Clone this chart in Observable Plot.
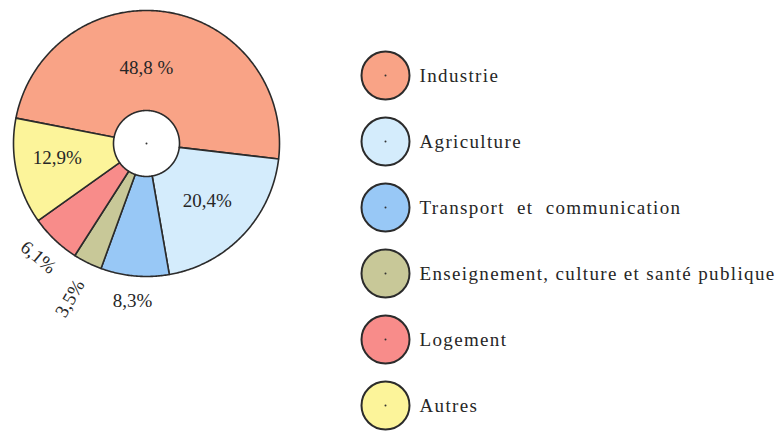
<!DOCTYPE html>
<html><head><meta charset="utf-8">
<script src="https://cdn.jsdelivr.net/npm/d3@7"></script>
<script src="https://cdn.jsdelivr.net/npm/@observablehq/plot@0.6"></script>
<style>
body{margin:0;background:#fff}
#wrap{display:flex;width:784px;height:431px}
#wrap svg{display:block}
</style>
</head><body><div id="wrap"></div>
<script>
// ---- data ----
const categories = ["Industrie", "Agriculture", "Transport et communication",
  "Enseignement, culture et santé publique", "Logement", "Autres"];
const shares = [48.8, 20.4, 8.3, 3.5, 6.1, 12.9];
const shareLabels = ["48,8 %", "20,4%", "8,3%", "3,5%", "6,1%", "12,9%"];
const legendLabels = ["Industrie", "Agriculture", "Transport\u00a0 et\u00a0 communication",
  "Enseignement, culture et santé publique", "Logement", "Autres"];

// ---- styles / layout ----
const colors = ["#f9a386", "#d4ecfc", "#98c8f6", "#c8c898", "#f88c8a", "#fcf49a"];
const serif = "'Liberation Serif', 'DejaVu Serif', serif";
const startDeg = -79;
const innerR = 33 / 133;
const labelPlace = [
  {r: 0.57, da: -9, rot: 0},
  {r: 0.63, da: 0, rot: 0},
  {r: 1.19, da: 0, rot: 0},
  {r: 1.30, da: 0, rot: -60},
  {r: 1.18, da: 0, rot: 40},
  {r: 0.68, da: 3, rot: 0}
];

const start = startDeg * Math.PI / 180;
const arcs = d3.pie().sort(null).value(d => d).startAngle(start).endAngle(start + 2 * Math.PI)(shares);

const pts = [];
arcs.forEach((a, i) => {
  const n = Math.max(4, Math.ceil((a.endAngle - a.startAngle) / 0.01));
  for (let k = 0; k <= n; k++) {
    const t = a.startAngle + (a.endAngle - a.startAngle) * k / n;
    pts.push({i, x: Math.sin(t), y: Math.cos(t)});
  }
  for (let k = n; k >= 0; k--) {
    const t = a.startAngle + (a.endAngle - a.startAngle) * k / n;
    pts.push({i, x: innerR * Math.sin(t), y: innerR * Math.cos(t)});
  }
});

const labels = arcs.map((a, i) => {
  const p = labelPlace[i];
  const t = (a.startAngle + a.endAngle) / 2 + p.da * Math.PI / 180;
  return {text: shareLabels[i], x: p.r * Math.sin(t), y: p.r * Math.cos(t), rot: p.rot};
});

const pie = Plot.plot({
  width: 292, height: 431,
  marginLeft: 13, marginRight: 13, marginTop: 10, marginBottom: 155,
  x: {domain: [-1, 1], axis: null},
  y: {domain: [-1, 1], axis: null},
  color: {type: "identity"},
  style: {fontFamily: serif, background: "transparent", overflow: "visible"},
  marks: [
    Plot.line(pts, {x: "x", y: "y", z: "i", fill: d => colors[d.i], stroke: "#2b2b2b",
      strokeWidth: 1.6, curve: "linear-closed", strokeLinejoin: "round"}),
    Plot.dot([0], {x: () => 0, y: () => 0, r: 1, fill: "#333"}),
    Plot.text(labels, {x: "x", y: "y", text: "text", rotate: "rot", fontSize: 19,
      fontFamily: serif, fill: "#262626"})
  ]
});

const legend = Plot.plot({
  width: 492, height: 431,
  marginLeft: 93, marginRight: 0, marginTop: 0, marginBottom: 0,
  y: {type: "point", domain: categories, range: [75, 405], padding: 0, axis: null},
  color: {type: "identity"},
  style: {fontFamily: serif, background: "transparent", overflow: "visible"},
  marks: [
    Plot.dot(categories, {y: d => d, r: 24, fill: (d, i) => colors[i], stroke: "#2b2b2b",
      strokeWidth: 2, frameAnchor: "left"}),
    Plot.dot(categories, {y: d => d, r: 1, fill: "#333", frameAnchor: "left"}),
    Plot.text(categories, {y: d => d, text: (d, i) => legendLabels[i], frameAnchor: "left",
      dx: 34, textAnchor: "start", fontSize: 19, fontFamily: serif, fill: "#262626"})
  ]
});

legend.querySelectorAll("text").forEach(t => t.style.letterSpacing = "1.35px");
document.getElementById("wrap").append(pie, legend);
</script>
</body></html>
